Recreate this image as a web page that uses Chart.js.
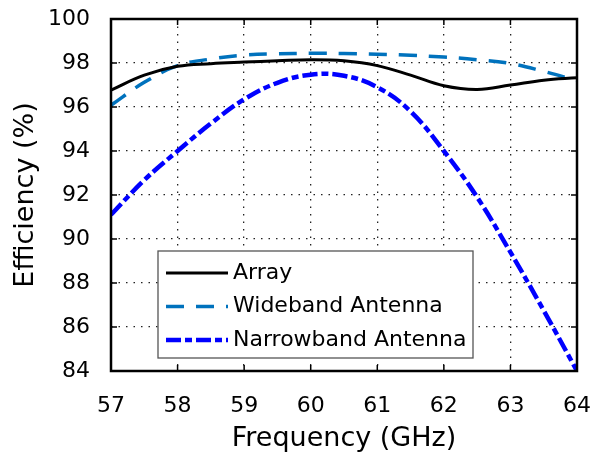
<!DOCTYPE html>
<html>
<head>
<meta charset="utf-8">
<script src="https://cdn.jsdelivr.net/npm/chart.js@4"></script>
<style>
  html, body { margin: 0; padding: 0; background: #fff; }
  canvas { display: block; }
</style>
</head>
<body>
<canvas id="effChart" width="591" height="457"></canvas>
<script>
// data
const freqGHz = [57, 57.5, 58, 58.5, 59, 59.5, 60, 60.5, 61, 61.5, 62, 62.5, 63, 63.5, 64];
const arrayEff = [96.77, 97.45, 97.85, 97.97, 98.04, 98.1, 98.15, 98.1, 97.88, 97.45, 96.97, 96.8, 97.0, 97.22, 97.33];
const widebandEff = [96.08, 97.12, 97.88, 98.18, 98.36, 98.42, 98.44, 98.43, 98.4, 98.35, 98.27, 98.15, 97.98, 97.62, 97.2];
const narrowbandEff = [91.1, 92.68, 94.0, 95.25, 96.35, 97.1, 97.47, 97.42, 96.9, 95.8, 94.0, 91.9, 89.4, 86.75, 84.0];
const seriesNames = ['Array', 'Wideband Antenna', 'Narrowband Antenna'];
const xTicks = [57, 58, 59, 60, 61, 62, 63, 64];
const yTicks = [84, 86, 88, 90, 92, 94, 96, 98, 100];

const FONT = "'DejaVu Sans', sans-serif";

const toPoints = (ys) => freqGHz.map((f, i) => ({ x: f, y: ys[i] }));

// keep the plot box where the figure has it
const noPad = (s) => {
  s.paddingTop = 0; s.paddingBottom = 0; s.paddingLeft = 0; s.paddingRight = 0;
};

// box round the plot, inward ticks, and the boxed legend
const framePlugin = {
  id: 'frame',
  afterDraw(chart) {
    const { ctx, chartArea: a, scales } = chart;
    ctx.save();
    ctx.strokeStyle = '#000';
    ctx.lineWidth = 1.5;
    ctx.setLineDash([]);
    ctx.beginPath();
    xTicks.forEach(v => {
      const px = scales.x.getPixelForValue(v);
      ctx.moveTo(px, a.bottom); ctx.lineTo(px, a.bottom - 6);
      ctx.moveTo(px, a.top); ctx.lineTo(px, a.top + 6);
    });
    yTicks.forEach(v => {
      const py = scales.y.getPixelForValue(v);
      ctx.moveTo(a.left, py); ctx.lineTo(a.left + 6, py);
      ctx.moveTo(a.right, py); ctx.lineTo(a.right - 6, py);
    });
    ctx.stroke();
    ctx.lineWidth = 2.5;
    ctx.strokeRect(a.left, a.top, a.right - a.left, a.bottom - a.top);

    // legend
    const lx = 158, ly = 251, lw = 315, lh = 107;
    ctx.fillStyle = '#fff';
    ctx.fillRect(lx, ly, lw, lh);
    ctx.strokeStyle = '#555';
    ctx.lineWidth = 1.3;
    ctx.strokeRect(lx, ly, lw, lh);
    ctx.font = '22px ' + FONT;
    ctx.textBaseline = 'middle';
    ctx.textAlign = 'left';
    chart.data.datasets.forEach((ds, i) => {
      const cy = ly + 22 + i * 33.5;
      ctx.strokeStyle = ds.borderColor;
      ctx.lineWidth = ds.borderWidth;
      ctx.setLineDash(ds.borderDash || []);
      ctx.beginPath();
      ctx.moveTo(lx + 8, cy);
      ctx.lineTo(lx + 70, cy);
      ctx.stroke();
      ctx.setLineDash([]);
      ctx.fillStyle = '#000';
      ctx.fillText(ds.label, lx + 75, cy);
    });
    ctx.restore();
  }
};

new Chart(document.getElementById('effChart'), {
  type: 'line',
  data: {
    datasets: [
      {
        label: seriesNames[0],
        data: toPoints(arrayEff),
        borderColor: '#000000',
        borderWidth: 3,
        pointRadius: 0,
        tension: 0.4
      },
      {
        label: seriesNames[1],
        data: toPoints(widebandEff),
        borderColor: '#0072BD',
        borderWidth: 3.5,
        borderDash: [18, 12],
        pointRadius: 0,
        tension: 0.4
      },
      {
        label: seriesNames[2],
        data: toPoints(narrowbandEff),
        borderColor: '#0000FF',
        borderWidth: 4.5,
        borderDash: [15, 4, 7, 4],
        pointRadius: 0,
        tension: 0.4
      }
    ]
  },
  options: {
    responsive: false,
    animation: false,
    devicePixelRatio: 1,
    layout: { padding: { left: 0, top: 19, right: 14, bottom: 0 } },
    plugins: {
      legend: { display: false },
      tooltip: { enabled: false }
    },
    scales: {
      x: {
        type: 'linear',
        min: 57,
        max: 64,
        afterBuildTicks: (s) => { s.ticks = xTicks.map(v => ({ value: v })); },
        afterFit: (s) => { s.height = 86; noPad(s); },
        grid: { color: '#222', lineWidth: 1.3, drawTicks: false },
        border: { display: false, dash: [1.5, 6] },
        ticks: { color: '#000', padding: 22, font: { family: FONT, size: 22 } },
        title: {
          display: true,
          text: 'Frequency (GHz)',
          color: '#000',
          padding: { top: 0, bottom: 2 },
          font: { family: FONT, size: 27 }
        }
      },
      y: {
        min: 84,
        max: 100,
        afterBuildTicks: (s) => { s.ticks = yTicks.map(v => ({ value: v })); },
        afterFit: (s) => { s.width = 111; noPad(s); },
        grid: { color: '#222', lineWidth: 1.3, drawTicks: false },
        border: { display: false, dash: [1.5, 6] },
        ticks: { color: '#000', padding: 21, font: { family: FONT, size: 22 } },
        title: {
          display: true,
          text: 'Efficiency (%)',
          color: '#000',
          padding: { top: 10, bottom: 0 },
          font: { family: FONT, size: 27 }
        }
      }
    }
  },
  plugins: [framePlugin]
});
</script>
</body>
</html>
